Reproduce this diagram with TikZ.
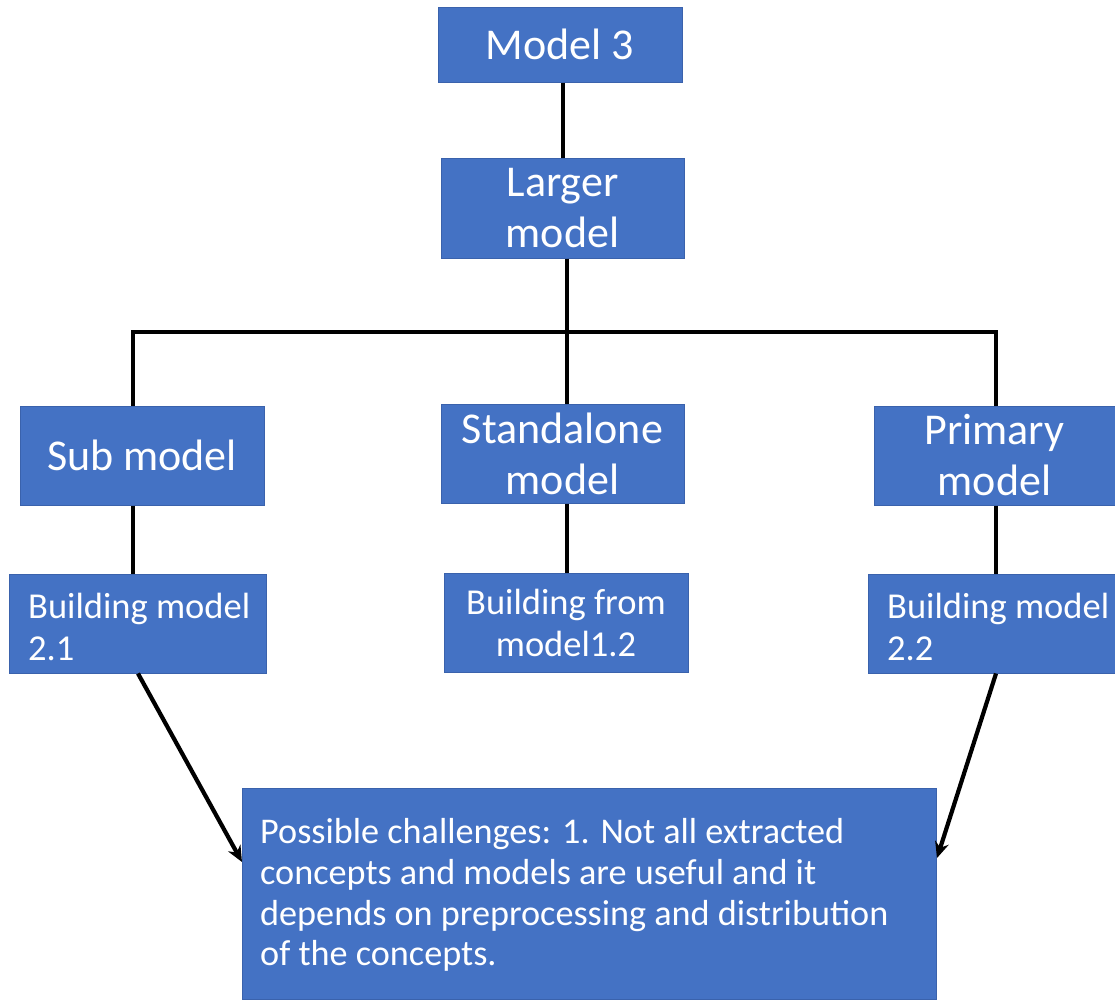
\documentclass[tikz,border=0pt]{standalone}
\usepackage{fontspec}
\setmainfont{Carlito}
\usetikzlibrary{arrows.meta}
\definecolor{boxblue}{HTML}{4472C4}
\definecolor{boxedge}{HTML}{3A62AC}
\begin{document}
\begin{tikzpicture}[x=1pt,y=-1pt,
  box/.style={draw=boxedge,line width=1pt,fill=boxblue,text=white,inner sep=0pt,
    minimum width=#1},
  big/.style={font=\fontsize{44}{51}\selectfont,align=center},
  small/.style={font=\fontsize{36.5}{42}\selectfont},
  words/.style={text=white,inner sep=0pt,anchor=north west,align=left},
  link/.style={line width=4.2pt,black},
  arr/.style={link,-{Stealth[length=16pt,width=14pt]}}]
  \useasboundingbox (0,0) rectangle (1115,999);

  % top of the tree
  \node[box=244,big,minimum height=75] (m3) at (560,44.5) {Model 3};
  \node[box=243,big,minimum height=100] (lg) at (562.5,208) {Larger\\model};

  % middle row
  \node[box=244,big,minimum height=99] (sub) at (142,455.5) {Sub model};
  \node[box=243,big,minimum height=99] (sa) at (562.5,453.5) {Standalone\\model};
  \node[box=241,big,minimum height=99] (pm) at (994.5,455.5) {Primary\\model};

  % building row
  \node[box=257,minimum height=99] (b1) at (137.5,623.5) {};
  \node[words,small] (b1t) at (28,593) {Building model\\2.1};
  \node[box=244,small,minimum height=99,align=center] (b2) at (566,622.5)
    {Building from\\model1.2};
  \node[box=247,minimum height=99] (b3) at (991.5,623.5) {};
  \node[words,small] (b3t) at (887,593) {Building model\\2.2};

  % note box
  \node[box=694,minimum height=211,anchor=north west] (ch) at (242,788) {};
  \node[words,font=\fontsize{36.2}{40.7}\selectfont] (cht) at (260,818.5)
    {Possible challenges: 1. Not all extracted\\concepts and models are useful and it\\
     depends on preprocessing and distribution\\of the concepts.};

  % connectors
  \coordinate (busL) at (133,332);
  \coordinate (busR) at (996,332);
  \draw[link] ([xshift=3pt]m3.south) -- ([xshift=0.5pt]lg.north);
  \draw[link] ([xshift=4.5pt]lg.south) -- ([xshift=4.5pt]sa.north);
  \draw[link] ([xshift=-9pt]sub.north) -- (busL) -- (busR) -- ([xshift=1.5pt]pm.north);
  \draw[link] ([xshift=-9pt]sub.south) -- ([xshift=-4.5pt]b1.north);
  \draw[link] ([xshift=4.5pt]sa.south) -- ([xshift=1pt]b2.north);
  \draw[link] ([xshift=1.5pt]pm.south) -- ([xshift=4.5pt]b3.north);
  \draw[arr] ([xshift=0.5pt]b1.south) -- ([yshift=-74pt]ch.north west);
  \draw[arr] ([xshift=4.5pt]b3.south) -- ([yshift=-70pt]ch.north east);
\end{tikzpicture}
\end{document}
